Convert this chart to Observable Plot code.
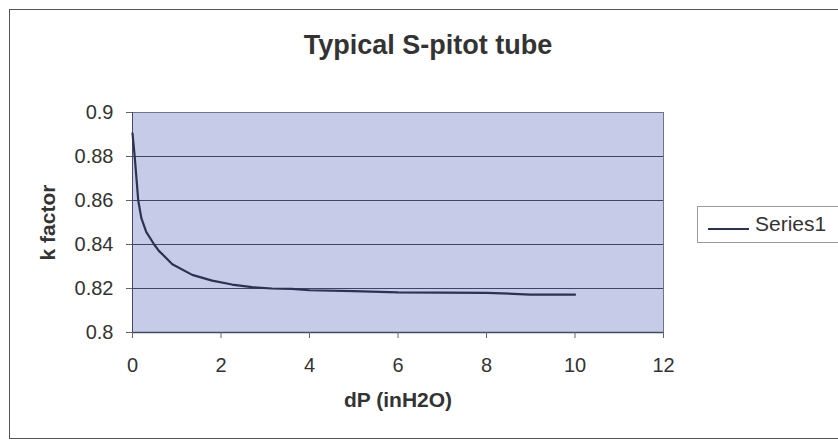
<!DOCTYPE html>
<html>
<head>
<meta charset="utf-8">
<script src="https://cdn.jsdelivr.net/npm/d3@7"></script>
<script src="https://cdn.jsdelivr.net/npm/@observablehq/plot@0.6"></script>
<style>
  html, body { margin: 0; padding: 0; background: #fff; }
  #wrap { position: relative; width: 838px; height: 443px; overflow: hidden; font-family: "Liberation Sans", Arial, sans-serif; }
  #border { position: absolute; left: 9px; top: 9px; width: 860px; height: 430px; border: 1.5px solid #555; box-sizing: border-box; }
  #legend { position: absolute; left: 697px; top: 206px; width: 160px; height: 37px; border: 1px solid #9a9a9a; background: #fff; box-sizing: border-box; }
  #legend .sw { position: absolute; left: 10px; top: 21px; width: 41px; height: 0; border-top: 2px solid #2a3350; }
  #legend .lb { position: absolute; left: 57px; top: 4px; font-size: 21px; color: #333; line-height: 26px; }
  #chart { position: absolute; left: 0; top: 0; }
</style>
</head>
<body>
<div id="wrap">
  <div id="border"></div>
  <div id="chart"></div>
  <div id="legend"><div class="sw"></div><div class="lb"></div></div>
</div>
<script>
const title = "Typical S-pitot tube";
const xLabel = "dP (inH2O)";
const yLabel = "k factor";
const seriesName = "Series1";
const xTicks = [0, 2, 4, 6, 8, 10, 12];
const yTicks = [0.8, 0.82, 0.84, 0.86, 0.88, 0.9];
const dP = [0, 0.05, 0.13, 0.2, 0.31, 0.49, 0.6, 0.68, 0.9, 1.35, 1.8, 2.25, 2.7, 3.15, 3.6, 4, 5, 6, 7, 8, 8.6, 9, 10];
const kFactor = [0.8905, 0.880, 0.860, 0.852, 0.8457, 0.840, 0.837, 0.8355, 0.831, 0.8262, 0.8236, 0.8218, 0.8206, 0.8200, 0.8198, 0.8192, 0.8188, 0.8182, 0.8181, 0.8180, 0.8176, 0.8172, 0.8172];

const data = dP.map((x, i) => ({x, y: kFactor[i]}));
const font = "Liberation Sans, Arial, sans-serif";

const chart = Plot.plot({
  width: 838,
  height: 443,
  marginLeft: 132,
  marginRight: 175,
  marginTop: 112,
  marginBottom: 111,
  style: {background: "transparent", fontFamily: font, color: "#333", overflow: "visible"},
  x: {domain: [0, 12]},
  y: {domain: [0.8, 0.9]},
  marks: [
    Plot.frame({fill: "#c6cbe8", stroke: null}),
    Plot.gridY(yTicks, {stroke: "#3e4462", strokeOpacity: 1, strokeWidth: 1}),
    Plot.frame({stroke: "#6e7390", strokeWidth: 1}),
    Plot.ruleY([0.8], {stroke: "#444a66", strokeWidth: 1.5}),
    Plot.ruleX([0], {stroke: "#444a66", strokeWidth: 1}),
    Plot.axisX(xTicks, {tickSize: 6, tickPadding: 19, fontSize: 20, stroke: "#666", fill: "#333", label: null}),
    Plot.axisY(yTicks, {tickSize: 6, tickPadding: 13, fontSize: 20, stroke: "#666", fill: "#333", label: null, tickFormat: d => String(d)}),
    Plot.line(data, {x: "x", y: "y", stroke: "#2a3350", strokeWidth: 2.2}),
    Plot.text([title], {frameAnchor: "top", dx: 30, dy: -67, fontSize: 27, fontWeight: "bold", fill: "#333", lineAnchor: "middle"}),
    Plot.text([xLabel], {frameAnchor: "bottom", dy: 68, fontSize: 21, fontWeight: "bold", fill: "#333", lineAnchor: "middle"}),
    Plot.text([yLabel], {frameAnchor: "left", dx: -84, rotate: -90, fontSize: 21, fontWeight: "bold", fill: "#333", lineAnchor: "middle", textAnchor: "middle"})
  ]
});
document.getElementById("chart").appendChild(chart);
document.querySelector("#legend .lb").textContent = seriesName;
</script>
</body>
</html>
